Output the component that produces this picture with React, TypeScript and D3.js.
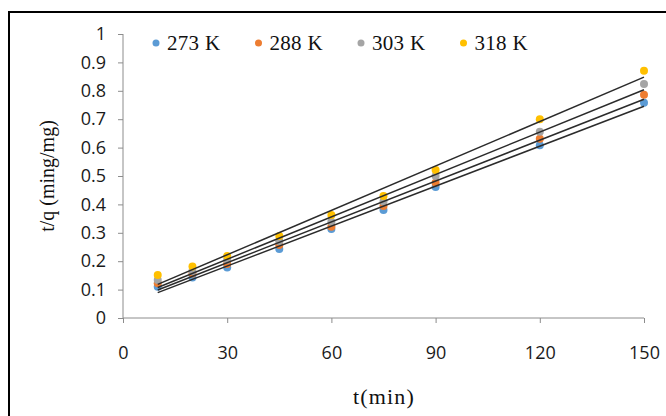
import { useEffect, useRef } from 'react';
import * as d3 from 'd3';

const times = [10, 20, 30, 45, 60, 75, 90, 120, 150];
const seriesNames = ['273 K', '288 K', '303 K', '318 K'];
const colors = ['#5b9bd5', '#ed7d31', '#a5a5a5', '#ffc000'];
const k273 = [0.11, 0.143, 0.178, 0.243, 0.313, 0.38, 0.461, 0.608, 0.758];
const k288 = [0.122, 0.157, 0.19, 0.257, 0.321, 0.394, 0.476, 0.631, 0.786];
const k303 = [0.134, 0.165, 0.205, 0.27, 0.339, 0.41, 0.5, 0.656, 0.824];
const k318 = [0.151, 0.181, 0.218, 0.289, 0.363, 0.43, 0.521, 0.7, 0.871];
const xTicks = [0, 30, 60, 90, 120, 150];
const yTicks = [0, 0.1, 0.2, 0.3, 0.4, 0.5, 0.6, 0.7, 0.8, 0.9, 1];

const [width, height] = [666, 416];
const plot = { left: 123, right: 644, top: 34, bottom: 318 };

// least squares trendline
function fit(xs: number[], ys: number[]) {
    const mx = d3.mean(xs)!, my = d3.mean(ys)!;
    const sxy = d3.sum(xs, (x, i) => (x - mx) * (ys[i] - my));
    const sxx = d3.sum(xs, x => (x - mx) ** 2);
    const b = sxy / sxx;
    return { a: my - b * mx, b };
}

function App() {
    const node = useRef<SVGSVGElement>(null);
    useEffect(() => {
        if (!node.current) return;
        const svg = d3.select(node.current);
        svg.selectAll('*').remove();

        const x = d3.scaleLinear().domain([0, 150]).range([plot.left, plot.right]);
        const y = d3.scaleLinear().domain([0, 1]).range([plot.bottom, plot.top]);
        const series = [k273, k288, k303, k318];

        // frame
        svg.append('path')
            .attr('d', `M9,${height} V12 H${width}`)
            .attr('fill', 'none').attr('stroke', '#000').attr('stroke-width', 2);

        const yAxis = svg.append('g')
            .attr('transform', `translate(${plot.left},0)`)
            .call(d3.axisLeft(y).tickValues(yTicks).tickSize(5).tickPadding(12)
                .tickFormat(d => (+d === 0 || +d === 1) ? String(d) : d3.format('.1f')(+d)));
        const xAxis = svg.append('g')
            .attr('transform', `translate(0,${plot.bottom})`)
            .call(d3.axisBottom(x).tickValues(xTicks).tickSize(5).tickPadding(23));

        [yAxis, xAxis].forEach(g => {
            g.select('.domain').attr('stroke', '#8c8c8c');
            g.selectAll('.tick line').attr('stroke', '#8c8c8c');
            g.selectAll('.tick text')
                .attr('fill', '#1a1a1a')
                .style('font-family', '"Open Sans", sans-serif')
                .style('font-size', '18px');
        });
        xAxis.select('.domain').attr('d', `M${plot.left},0H${plot.right}`);
        yAxis.select('.domain').attr('d', `M0,${plot.bottom}V${plot.top}`);

        // points
        series.forEach((vals, s) => {
            svg.append('g').selectAll('circle')
                .data(vals)
                .enter()
                .append('circle')
                .attr('cx', (d, i) => x(times[i]))
                .attr('cy', d => y(d))
                .attr('r', 4)
                .attr('fill', colors[s]);
        });

        // trendlines
        series.forEach(vals => {
            const { a, b } = fit(times, vals);
            const t0 = times[0], t1 = times[times.length - 1];
            svg.append('line')
                .attr('x1', x(t0)).attr('y1', y(a + b * t0))
                .attr('x2', x(t1)).attr('y2', y(a + b * t1))
                .attr('stroke', '#2b2b2b').attr('stroke-width', 1.5);
        });

        // legend
        const legend = svg.append('g').attr('transform', 'translate(156,43)');
        seriesNames.forEach((name, i) => {
            const g = legend.append('g').attr('transform', `translate(${i * 102.5},0)`);
            g.append('circle').attr('r', 3.5).attr('fill', colors[i]);
            g.append('text')
                .attr('x', 11).attr('y', 7)
                .style('font-family', '"Liberation Serif", serif')
                .style('font-size', '21px')
                .style('letter-spacing', '0.3px')
                .attr('fill', '#111')
                .text(name);
        });

        svg.append('text')
            .attr('x', 384).attr('y', 404)
            .attr('text-anchor', 'middle')
            .style('font-family', '"Liberation Serif", serif')
            .style('font-size', '22px')
            .style('letter-spacing', '1.2px')
            .attr('fill', '#111')
            .text('t(min)');

        svg.append('text')
            .attr('transform', 'translate(54,176) rotate(-90)')
            .attr('text-anchor', 'middle')
            .style('font-family', '"Liberation Serif", serif')
            .style('font-size', '20px')
            .attr('fill', '#111')
            .text('t/q (ming/mg)');
    }, [node]);

    return (
        <svg ref={node} width={width} height={height}
            style={{ position: 'absolute', left: 0, top: 0, background: '#fff' }}></svg>
    );
}

export default App;
